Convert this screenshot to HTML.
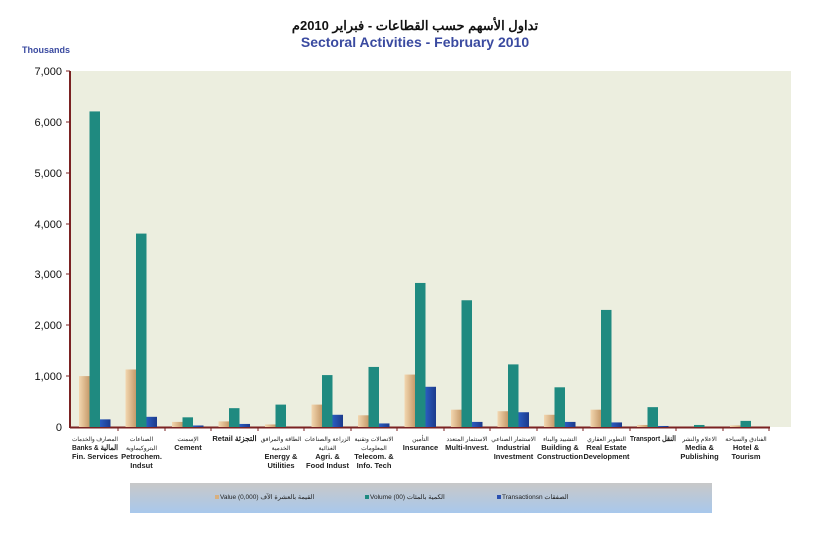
<!DOCTYPE html>
<html><head><meta charset="utf-8"><style>
html,body{margin:0;padding:0;background:#fff;}
svg{display:block;font-family:"Liberation Sans","Noto Sans CJK SC",sans-serif;}
</style></head><body>
<svg width="830" height="547" viewBox="0 0 830 547" xmlns="http://www.w3.org/2000/svg">
<defs>
<linearGradient id="gv" x1="0" x2="1" y1="0" y2="0"><stop offset="0" stop-color="#f3d7b0"/><stop offset="1" stop-color="#c69a6a"/></linearGradient>
<linearGradient id="gt" x1="0" x2="1" y1="0" y2="0"><stop offset="0" stop-color="#2a5cc0"/><stop offset="1" stop-color="#1c3a8c"/></linearGradient>
<linearGradient id="gl" x1="0" x2="0" y1="0" y2="1"><stop offset="0" stop-color="#c8c8c8"/><stop offset="1" stop-color="#a8c8ec"/></linearGradient>
</defs>
<text x="415" y="30" font-size="13" font-weight="bold" text-anchor="middle" fill="#111">تداول الأسهم حسب القطاعات - فبراير 2010م</text>
<text x="415" y="47" font-size="14" font-weight="bold" text-anchor="middle" fill="#3a4aa0">Sectoral Activities - February 2010</text>
<text x="22" y="53" font-size="9" font-weight="bold" fill="#3a4aa0">Thousands</text>
<rect x="71" y="71" width="720" height="356" fill="#eceedf"/>
<line x1="70" y1="71" x2="70" y2="428" stroke="#7a2222" stroke-width="2"/>
<line x1="70" y1="427.5" x2="770" y2="427.5" stroke="#7a2222" stroke-width="2"/>
<g font-size="11" text-anchor="end" fill="#111">
<text x="62" y="75">7,000</text><text x="62" y="126">6,000</text><text x="62" y="177">5,000</text><text x="62" y="228">4,000</text><text x="62" y="278">3,000</text><text x="62" y="329">2,000</text><text x="62" y="380">1,000</text><text x="62" y="431">0</text>
</g>
<g stroke="#7a2222" stroke-width="1">
<line x1="66" y1="71" x2="70" y2="71"/><line x1="66" y1="122" x2="70" y2="122"/><line x1="66" y1="173" x2="70" y2="173"/><line x1="66" y1="224" x2="70" y2="224"/><line x1="66" y1="274" x2="70" y2="274"/><line x1="66" y1="325" x2="70" y2="325"/><line x1="66" y1="376" x2="70" y2="376"/>
<line x1="118" y1="427" x2="118" y2="431"/><line x1="165" y1="427" x2="165" y2="431"/><line x1="211" y1="427" x2="211" y2="431"/><line x1="258" y1="427" x2="258" y2="431"/><line x1="304" y1="427" x2="304" y2="431"/><line x1="351" y1="427" x2="351" y2="431"/><line x1="397" y1="427" x2="397" y2="431"/><line x1="444" y1="427" x2="444" y2="431"/><line x1="490" y1="427" x2="490" y2="431"/><line x1="537" y1="427" x2="537" y2="431"/><line x1="583" y1="427" x2="583" y2="431"/><line x1="630" y1="427" x2="630" y2="431"/><line x1="676" y1="427" x2="676" y2="431"/><line x1="723" y1="427" x2="723" y2="431"/><line x1="769" y1="427" x2="769" y2="431"/>
</g>
<g id="bars"></g>
<g text-anchor="middle" fill="#222" id="labels"></g>
<rect x="130" y="483" width="582" height="30" fill="url(#gl)"/>
<g font-size="6.5" fill="#222">
<rect x="215" y="495" width="4" height="4" fill="#d8b080"/><text x="220" y="499">Value  (0,000) القيمة بالعشرة الآف</text>
<rect x="365" y="495" width="4" height="4" fill="#1f8a80"/><text x="370" y="499">Volume (00) الكمية بالمئات</text>
<rect x="497" y="495" width="4" height="4" fill="#2a4fb0"/><text x="502" y="499">Transactionsn الصفقات</text>
</g>
<script>
var d=[[1000,6200,150,"المصارف والخدمات|Banks &  المالية|Fin. Services"],[1130,3800,200,"الصناعات|البتروكيماوية|Petrochem.|Indsut"],[100,190,30,"الإسمنت|Cement"],[110,370,60,"Retail  التجزئة"],[50,440,0,"الطاقة والمرافق|الخدمية|Energy &|Utilities"],[440,1020,240,"الزراعة والصناعات|الغذائية|Agri. &|Food Indust"],[230,1180,70,"الاتصالات وتقنية|المعلومات|Telecom. &|Info. Tech"],[1030,2830,790,"التأمين|Insurance"],[340,2490,100,"الاستثمار المتعدد|Multi-Invest."],[310,1230,290,"الاستثمار الصناعي|Industrial|Investment"],[240,780,100,"التشييد والبناء|Building &|Construction"],[340,2300,90,"التطوير العقاري|Real Estate|Development"],[40,390,20,"Transport  النقل"],[0,40,0,"الاعلام والنشر|Media &|Publishing"],[30,120,0,"الفنادق والسياحة|Hotel &|Tourism"]];
var ns="http://www.w3.org/2000/svg",b=document.getElementById("bars"),L=document.getElementById("labels"),f=["url(#gv)","#1f8a80","url(#gt)"];
d.forEach(function(r,i){var x0=72+i*46.5;for(var k=0;k<3;k++){var h=r[k]*0.0509;if(h<=0)continue;var e=document.createElementNS(ns,"rect");e.setAttribute("x",x0+7+k*10.5);e.setAttribute("y",427-h);e.setAttribute("width",10.5);e.setAttribute("height",h);e.setAttribute("fill",f[k]);b.appendChild(e);}
r[3].split("|").forEach(function(s,j){var t=document.createElementNS(ns,"text");t.setAttribute("x",x0+23);t.setAttribute("y",441+j*9);var ar=/[\u0600-\u06FF]/.test(s)&&!/[A-Za-z]/.test(s);t.setAttribute("font-size",ar?"6":"7.5");if(!ar)t.setAttribute("font-weight","bold");t.textContent=s;L.appendChild(t);var w=t.getComputedTextLength();if(w>46){t.setAttribute("textLength",46);t.setAttribute("lengthAdjust","spacingAndGlyphs");}});});
</script>
</svg>
</body></html>
